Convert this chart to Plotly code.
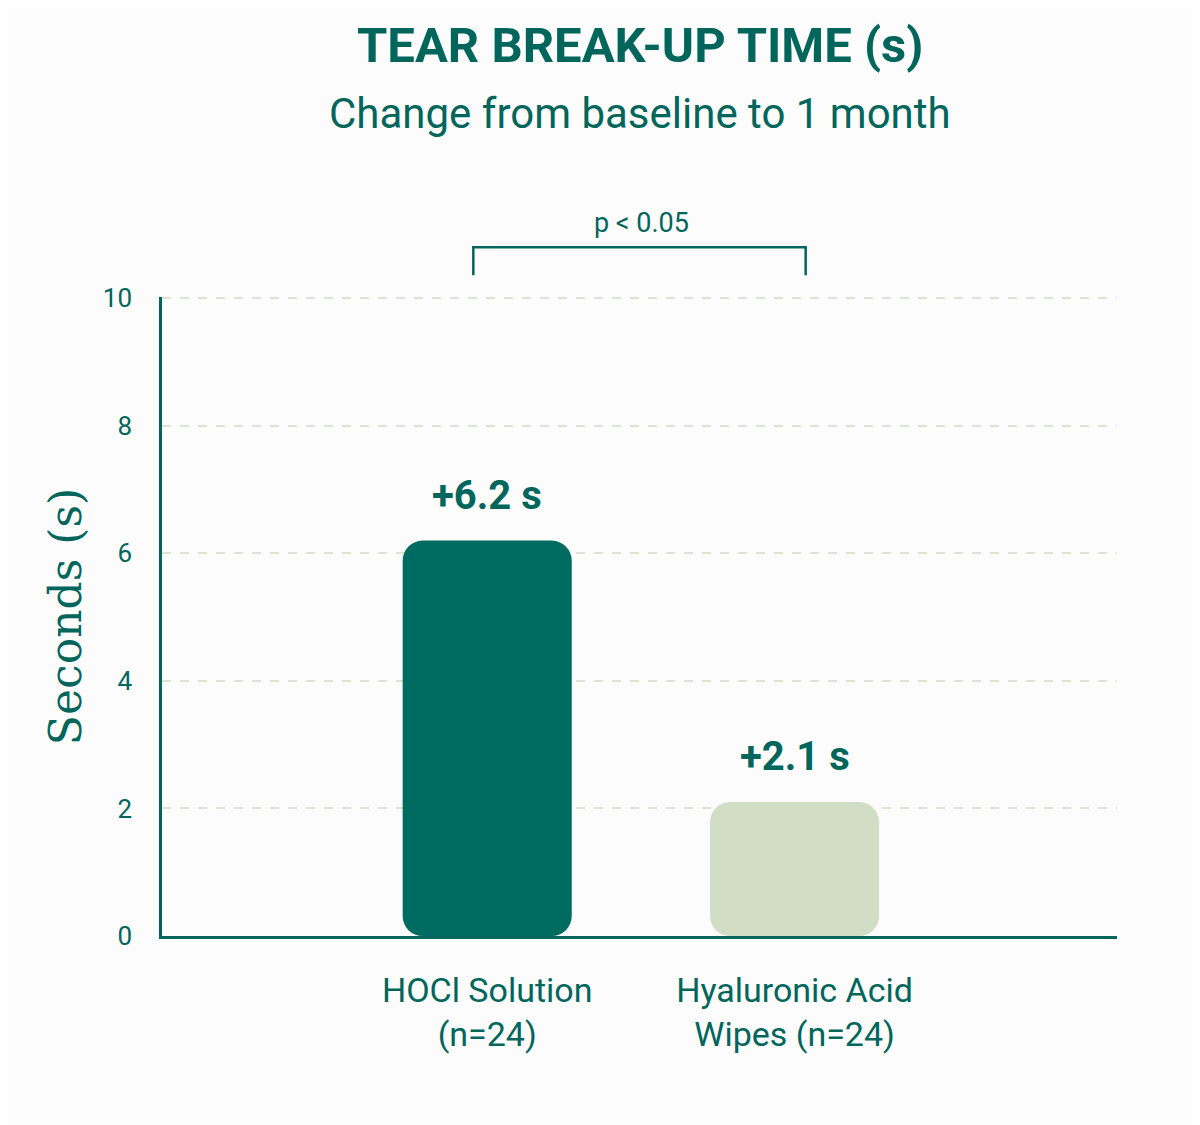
import plotly.graph_objects as go

# Data
categories = ["HOCl Solution<br>(n=24)", "Hyaluronic Acid<br>Wipes (n=24)"]
change_sec = [6.2, 2.1]
value_labels = ["+6.2 s", "+2.1 s"]
bar_colors = ["#006B61", "#D1DDC5"]
y_ticks = [0, 2, 4, 6, 8, 10]
p_label = "p < 0.05"

teal = "#00665C"
grid = "#DCE3D0"
bg = "#FCFCFC"
sans = "Roboto"

fig = go.Figure()

# explicit base -> plotly rounds both ends of the bar
fig.add_trace(go.Bar(
    x=categories, y=change_sec, base=[0] * len(change_sec),
    marker=dict(color=bar_colors, cornerradius=20, line=dict(width=0)),
    width=0.55, hoverinfo="skip",
))

# value labels above bars
for cat, v, lab in zip(categories, change_sec, value_labels):
    fig.add_annotation(x=cat, y=v, text="<b>" + lab + "</b>", showarrow=False,
                       yanchor="bottom", yshift=20,
                       font=dict(family=sans, size=40, color=teal))

# significance bracket
fig.add_shape(type="path", xref="paper", yref="paper",
              path="M 0.326 1.034 L 0.326 1.078 L 0.674 1.078 L 0.674 1.034",
              line=dict(color=teal, width=2.5))
fig.add_annotation(xref="paper", yref="paper", x=0.502, y=1.078, text=p_label,
                   showarrow=False, yanchor="bottom", yshift=6,
                   font=dict(family=sans, size=27, color=teal))

# title + subtitle
fig.add_annotation(xref="paper", yref="paper", x=0.5, y=1.0, yshift=252,
                   yanchor="middle", text="<b>TEAR BREAK-UP TIME (s)</b>",
                   showarrow=False, font=dict(family=sans, size=49, color=teal))
fig.add_annotation(xref="paper", yref="paper", x=0.5, y=1.0, yshift=184,
                   yanchor="middle", text="Change from baseline to 1 month",
                   showarrow=False, font=dict(family=sans, size=42, color=teal))

# page body has an 8px margin, so the figure is a bit smaller and shifted
fig.update_layout(
    width=1192, height=1117,
    margin=dict(l=154, r=83, t=289, b=189),
    paper_bgcolor=bg, plot_bgcolor=bg,
    showlegend=False,
    font=dict(family=sans, color=teal),
)
fig.update_xaxes(
    type="category", range=[-1.058, 2.049],
    showgrid=False, showline=True, linecolor=teal, linewidth=3,
    ticks="", ticklabelstandoff=22,
    tickfont=dict(family=sans, size=34, color=teal),
)
fig.update_yaxes(
    range=[0, 10.02], tickvals=y_ticks,
    showgrid=True, gridcolor=grid, griddash="dash", gridwidth=2,
    zeroline=False, showline=True, linecolor=teal, linewidth=2.5,
    ticks="", ticklabelstandoff=22,
    tickfont=dict(family=sans, size=26, color=teal),
    title=dict(text="Seconds (s)", standoff=8,
               font=dict(family="DejaVu Serif", size=44, color=teal)),
)

fig.write_html("out.html")
